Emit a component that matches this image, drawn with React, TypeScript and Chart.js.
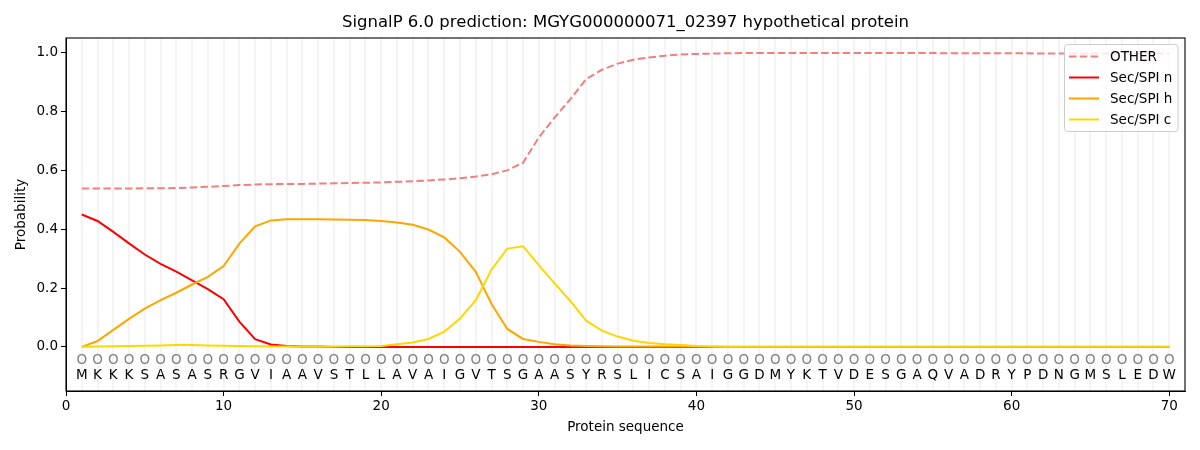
import React, { useEffect, useRef } from "react";
import { Chart, registerables } from "chart.js";

Chart.register(...registerables);

const residues = "MKKKSASASRGVIAAVSTLLAVAIGVTSGAASYRSLICSAIGGDMYKTVDESGAQVADRYPDNGMSLEDW".split("");

const otherProb = [
  0.538, 0.538, 0.538, 0.538, 0.539, 0.539, 0.540, 0.542, 0.544, 0.547,
  0.550, 0.552, 0.553, 0.554, 0.554, 0.555, 0.556, 0.557, 0.558, 0.559,
  0.561, 0.563, 0.566, 0.569, 0.573, 0.579, 0.587, 0.600, 0.626, 0.712,
  0.779, 0.842, 0.910, 0.942, 0.963, 0.976, 0.984, 0.990, 0.994, 0.996,
  0.997, 0.998, 0.999, 0.999, 0.999, 0.999, 0.999, 0.999, 0.999, 0.999,
  0.999, 0.999, 0.999, 0.999, 0.999, 0.998, 0.998, 0.998, 0.998, 0.998,
  0.998, 0.997, 0.997, 0.997, 0.997, 0.997, 0.997, 0.997, 0.997, 0.997,
];

const secN = [
  0.450, 0.428, 0.391, 0.352, 0.314, 0.282, 0.256, 0.226, 0.196, 0.162,
  0.086, 0.026, 0.008, 0.003, 0.001, 0.001, 0.0, 0.0, 0.0, 0.0,
  0.0, 0.0, 0.0, 0.0, 0.0, 0.0, 0.0, 0.0, 0.0, 0.0,
  0.0, 0.0, 0.0, 0.0, 0.0, 0.0, 0.0, 0.0, 0.0, 0.0,
  0.0, 0.0, 0.0, 0.0, 0.0, 0.0, 0.0, 0.0, 0.0, 0.0,
  0.0, 0.0, 0.0, 0.0, 0.0, 0.0, 0.0, 0.0, 0.0, 0.0,
  0.0, 0.0, 0.0, 0.0, 0.0, 0.0, 0.0, 0.0, 0.0, 0.0,
];

const secH = [
  0.0, 0.020, 0.058, 0.095, 0.130, 0.159, 0.184, 0.212, 0.238, 0.275,
  0.351, 0.410, 0.430, 0.434, 0.434, 0.434, 0.433, 0.432, 0.431, 0.428,
  0.423, 0.415, 0.399, 0.372, 0.323, 0.255, 0.146, 0.061, 0.027, 0.017,
  0.009, 0.005, 0.003, 0.002, 0.001, 0.001, 0.001, 0.001, 0.001, 0.001,
  0.0, 0.0, 0.0, 0.0, 0.0, 0.0, 0.0, 0.0, 0.0, 0.0,
  0.0, 0.0, 0.0, 0.0, 0.0, 0.0, 0.0, 0.0, 0.0, 0.0,
  0.0, 0.0, 0.0, 0.0, 0.0, 0.0, 0.0, 0.0, 0.0, 0.0,
];

const secC = [
  0.0, 0.001, 0.002, 0.003, 0.004, 0.005, 0.006, 0.006, 0.005, 0.004,
  0.003, 0.002, 0.001, 0.001, 0.001, 0.001, 0.001, 0.002, 0.002, 0.003,
  0.009, 0.015, 0.027, 0.052, 0.096, 0.159, 0.263, 0.334, 0.342, 0.278,
  0.216, 0.156, 0.089, 0.055, 0.035, 0.021, 0.013, 0.009, 0.006, 0.003,
  0.002, 0.001, 0.001, 0.001, 0.001, 0.001, 0.001, 0.001, 0.001, 0.001,
  0.001, 0.001, 0.001, 0.001, 0.001, 0.001, 0.001, 0.001, 0.001, 0.001,
  0.001, 0.001, 0.001, 0.001, 0.001, 0.001, 0.001, 0.001, 0.001, 0.001,
];

const xTicks = [0, 10, 20, 30, 40, 50, 60, 70];
const yTicks = [0.0, 0.2, 0.4, 0.6, 0.8, 1.0];

const titleText = "SignalP 6.0 prediction: MGYG000000071_02397 hypothetical protein";
const FONT = "'DejaVu Sans', sans-serif";

const seriesDefs = [
  { label: "OTHER", data: otherProb, color: "#f08080", dash: [7.5, 3.3] },
  { label: "Sec/SPI n", data: secN, color: "#ff0000", dash: [] as number[] },
  { label: "Sec/SPI h", data: secH, color: "#ffa500", dash: [] as number[] },
  { label: "Sec/SPI c", data: secC, color: "#ffd700", dash: [] as number[] },
];

const decorPlugin = {
  id: "decor",
  beforeDraw(chart: any) {
    const ctx = chart.ctx;
    ctx.save();
    ctx.fillStyle = "#ffffff";
    ctx.fillRect(0, 0, chart.width, chart.height);
    ctx.restore();
  },
  beforeDatasetsDraw(chart: any) {
    const { ctx, chartArea, scales } = chart;
    ctx.save();
    ctx.strokeStyle = "#f4f4f4";
    ctx.lineWidth = 2;
    for (let i = 1; i <= residues.length; i++) {
      const px = Math.round(scales.x.getPixelForValue(i));
      ctx.beginPath();
      ctx.moveTo(px, chartArea.top);
      ctx.lineTo(px, chartArea.bottom);
      ctx.stroke();
    }
    // residue markers and letters
    ctx.textAlign = "center";
    ctx.textBaseline = "middle";
    const yc = scales.y.getPixelForValue(-0.045);
    const yl = scales.y.getPixelForValue(-0.098);
    residues.forEach((r, i) => {
      const px = scales.x.getPixelForValue(i + 1);
      ctx.fillStyle = "#808080";
      ctx.font = `13.5px ${FONT}`;
      ctx.fillText("O", px, yc);
      ctx.fillStyle = "#000000";
      ctx.font = `13.5px ${FONT}`;
      ctx.fillText(r, px, yl);
    });
    ctx.restore();
  },
  afterDraw(chart: any) {
    const { ctx, chartArea } = chart;
    ctx.save();
    // frame
    ctx.strokeStyle = "#000000";
    ctx.lineWidth = 1.1;
    ctx.strokeRect(chartArea.left, chartArea.top, chartArea.right - chartArea.left, chartArea.bottom - chartArea.top);

    // title
    ctx.fillStyle = "#000000";
    ctx.textAlign = "center";
    ctx.textBaseline = "middle";
    ctx.font = `16.5px ${FONT}`;
    ctx.fillText(titleText, (chartArea.left + chartArea.right) / 2, 23);

    // axis titles
    ctx.font = `13.5px ${FONT}`;
    ctx.fillText("Protein sequence", (chartArea.left + chartArea.right) / 2, 427);
    ctx.save();
    ctx.translate(21, (chartArea.top + chartArea.bottom) / 2);
    ctx.rotate(-Math.PI / 2);
    ctx.fillText("Probability", 0, 0);
    ctx.restore();

    // legend
    const bx = 1064.5, by = 44.5, bw = 113.5, bh = 87;
    ctx.fillStyle = "rgba(255,255,255,0.8)";
    ctx.strokeStyle = "#cccccc";
    ctx.lineWidth = 1;
    ctx.beginPath();
    if ((ctx as any).roundRect) {
      (ctx as any).roundRect(bx, by, bw, bh, 3);
    } else {
      ctx.rect(bx, by, bw, bh);
    }
    ctx.fill();
    ctx.stroke();
    const rows = [56.5, 77.5, 98.5, 119.5];
    seriesDefs.forEach((s, i) => {
      ctx.strokeStyle = s.color;
      ctx.lineWidth = 2;
      ctx.setLineDash(s.dash);
      ctx.beginPath();
      ctx.moveTo(1069, rows[i]);
      ctx.lineTo(1099, rows[i]);
      ctx.stroke();
      ctx.setLineDash([]);
      ctx.fillStyle = "#000000";
      ctx.textAlign = "left";
      ctx.font = `13.5px ${FONT}`;
      ctx.fillText(s.label, 1110, rows[i] + 0.5);
    });
    ctx.restore();
  },
};

export default function App() {
  const canvasRef = useRef<HTMLCanvasElement | null>(null);

  useEffect(() => {
    const canvas = canvasRef.current;
    if (!canvas) return;
    const chart = new Chart(canvas, {
      type: "line",
      data: {
        datasets: seriesDefs.map((s, i) => ({
          label: s.label,
          data: s.data.map((v, j) => ({ x: j + 1, y: v })),
          borderColor: s.color,
          backgroundColor: s.color,
          borderWidth: 2,
          borderDash: s.dash,
          pointRadius: 0,
          tension: 0,
          fill: false,
          order: -i,
        })),
      },
      options: {
        animation: false,
        responsive: false,
        devicePixelRatio: 1,
        layout: { padding: { top: 38, right: 15, left: 0, bottom: 0 } },
        plugins: {
          legend: { display: false },
          title: { display: false },
          tooltip: { enabled: false },
        },
        scales: {
          x: {
            type: "linear",
            min: 0,
            max: 71,
            afterBuildTicks: (scale: any) => {
              scale.ticks = xTicks.map((v) => ({ value: v }));
            },
            afterFit: (scale: any) => {
              scale.height = 59;
            },
            ticks: {
              color: "#000000",
              font: { family: FONT, size: 13.5 },
              padding: 2,
              maxRotation: 0,
              autoSkip: false,
              callback: (v: any) => String(v),
            },
            grid: { drawOnChartArea: false, drawTicks: true, tickLength: 5, color: "#000000" },
            border: { display: true, color: "#000000" },
          },
          y: {
            type: "linear",
            min: -0.15,
            max: 1.05,
            afterBuildTicks: (scale: any) => {
              scale.ticks = yTicks.map((v) => ({ value: v }));
            },
            afterFit: (scale: any) => {
              scale.width = 66;
            },
            ticks: {
              color: "#000000",
              font: { family: FONT, size: 13.5 },
              padding: 3,
              autoSkip: false,
              callback: (v: any) => Number(v).toFixed(1),
            },
            grid: { drawOnChartArea: false, drawTicks: true, tickLength: 5, color: "#000000" },
            border: { display: true, color: "#000000" },
          },
        },
      },
      plugins: [decorPlugin],
    });
    return () => chart.destroy();
  }, []);

  return (
    <div style={{ position: "fixed", left: 0, top: 0, width: 1200, height: 450, background: "#fff" }}>
      <canvas ref={canvasRef} width={1200} height={450} style={{ width: 1200, height: 450, display: "block" }} />
    </div>
  );
}
